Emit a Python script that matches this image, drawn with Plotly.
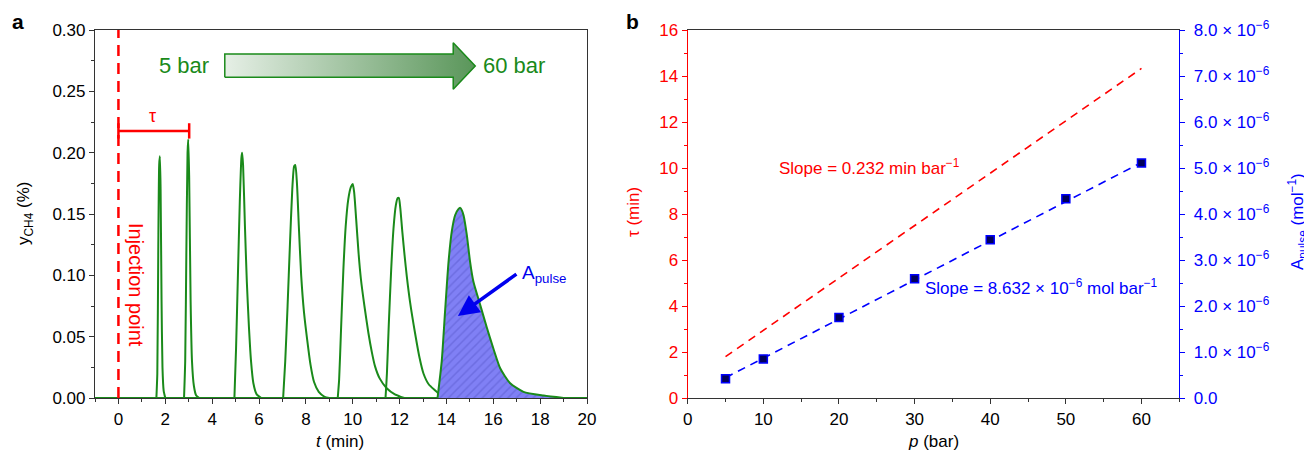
import plotly.graph_objects as go

# The page shows the figure with an 8px body margin, so the figure is 8px smaller
# and all reference pixel positions are shifted by OFF.
OFF = 8
W, H = 1312 - OFF, 458 - OFF
FONT = "Liberation Sans, Arial, sans-serif"
GREEN = "#1a8a1a"
RED = "#ff0000"
BLUE = "#0000ff"


def fx(x):
    return (x - OFF) / W


def fy(y):
    return 1 - (y - OFF) / H


# ---------------- Panel a data (chromatogram peaks) ----------------
t1 = [1.62, 1.66, 1.70, 1.74, 1.77, 1.80, 1.84, 1.88, 1.93, 2.00]
y1 = [0, 0.02, 0.12, 0.19, 0.197, 0.17, 0.08, 0.025, 0.006, 0]

t2 = [2.80, 2.85, 2.90, 2.95, 2.98, 3.02, 3.08, 3.14, 3.22, 3.32, 3.45]
y2 = [0, 0.03, 0.12, 0.20, 0.211, 0.18, 0.08, 0.03, 0.01, 0.002, 0]

t3 = [4.95, 5.02, 5.10, 5.18, 5.25, 5.28, 5.32, 5.40, 5.48, 5.57, 5.66, 5.76, 5.90, 6.10]
y3 = [0, 0.04, 0.10, 0.16, 0.196, 0.200, 0.19, 0.14, 0.095, 0.058, 0.03, 0.012, 0.003, 0]

t4 = [7.03, 7.12, 7.22, 7.32, 7.42, 7.50, 7.55, 7.62, 7.70, 7.80, 7.92, 8.06, 8.20, 8.35, 8.55, 8.80, 9.00]
y4 = [0, 0.03, 0.075, 0.125, 0.17, 0.189, 0.19, 0.175, 0.14, 0.10, 0.07, 0.047, 0.027, 0.013, 0.005, 0.001, 0]

t5 = [9.36, 9.42, 9.50, 9.60, 9.70, 9.81, 9.92, 10.00, 10.06, 10.15, 10.25, 10.35, 10.50, 10.67,
      10.82, 10.95, 11.15, 11.45, 11.80, 12.20]
y5 = [0, 0.015, 0.055, 0.104, 0.14, 0.162, 0.172, 0.1745, 0.168, 0.145, 0.118, 0.097, 0.075, 0.053,
      0.037, 0.026, 0.016, 0.008, 0.003, 0]

t6 = [11.40, 11.46, 11.54, 11.64, 11.74, 11.84, 11.92, 11.97, 12.03, 12.12, 12.22, 12.31, 12.45,
      12.66, 12.85, 13.02, 13.25, 13.59, 13.80]
y6 = [0, 0.02, 0.06, 0.104, 0.138, 0.157, 0.163, 0.163, 0.155, 0.135, 0.115, 0.099, 0.078,
      0.053, 0.033, 0.020, 0.011, 0.005, 0]

t7 = [13.62, 13.80, 13.94, 14.09, 14.23, 14.37, 14.51, 14.59, 14.66, 14.73, 14.87, 15.01, 15.15,
      15.44, 15.73, 16.00, 16.30, 16.72, 17.29, 18.15, 19.00]
y7 = [0, 0.03, 0.07, 0.111, 0.136, 0.149, 0.154, 0.155, 0.153, 0.149, 0.133, 0.111, 0.095,
      0.076, 0.057, 0.0405, 0.024, 0.012, 0.005, 0.002, 0]

peaks = [(t1, y1), (t2, y2), (t3, y3), (t4, y4), (t5, y5), (t6, y6)]
baseline_t = [-1, 20]
baseline_y = [0, 0]

injection_t = [0, 0]
injection_y = [0, 0.30]

# decorative pressure arrow outline (t, y) in panel-a coordinates
arrow_t = [4.54, 14.29, 14.29, 15.23, 14.29, 14.29, 4.54, 4.54]
arrow_y = [0.2614, 0.2614, 0.2517, 0.2707, 0.2896, 0.2804, 0.2804, 0.2614]

# ---------------- Panel b data ----------------
p_pts = [5, 10, 20, 30, 40, 50, 60]
A_pts = [0.42e-6, 0.85e-6, 1.75e-6, 2.59e-6, 3.44e-6, 4.33e-6, 5.11e-6]
A_fit_p = [5, 60]
A_fit = [0.44e-6, 5.12e-6]
tau_fit_p = [5, 60]
tau_fit = [1.80, 14.33]

right_tickvals = [i * 1e-6 for i in range(9)]
right_ticktext = ["0.0"] + [f"{i}.0 × 10<sup>−6</sup>" for i in range(1, 9)]

fig = go.Figure()

# baseline
fig.add_trace(go.Scatter(x=baseline_t, y=baseline_y, mode="lines", line=dict(color=GREEN, width=2),
                         xaxis="x", yaxis="y", cliponaxis=False, showlegend=False, hoverinfo="skip"))
# peaks
for tt, yy in peaks:
    fig.add_trace(go.Scatter(x=tt, y=yy, mode="lines",
                             line=dict(color=GREEN, width=2, shape="spline", smoothing=0.6),
                             xaxis="x", yaxis="y", cliponaxis=False, showlegend=False))
# filled peak
fig.add_trace(go.Scatter(x=t7, y=y7, mode="lines", fill="tozeroy",
                         fillcolor="rgb(128,128,245)",
                         fillpattern=dict(shape="/", bgcolor="rgb(128,128,245)", fgcolor="rgb(90,90,205)",
                                          size=6, solidity=0.25),
                         line=dict(color=GREEN, width=2, shape="spline", smoothing=0.6),
                         xaxis="x", yaxis="y", cliponaxis=False, showlegend=False))
# injection line
fig.add_trace(go.Scatter(x=injection_t, y=injection_y, mode="lines",
                         line=dict(color=RED, width=2.5, dash="11px,7px"),
                         xaxis="x", yaxis="y", showlegend=False))
# gradient arrow
fig.add_trace(go.Scatter(x=arrow_t, y=arrow_y, mode="lines", fill="toself",
                         fillgradient=dict(type="horizontal",
                                           colorscale=[[0, "#e6efe6"], [1, "#5a965a"]]),
                         line=dict(color=GREEN, width=1.5),
                         xaxis="x", yaxis="y", showlegend=False, hoverinfo="skip"))

# panel b
fig.add_trace(go.Scatter(x=tau_fit_p, y=tau_fit, mode="lines",
                         line=dict(color=RED, width=1.6, dash="8px,6px"),
                         xaxis="x2", yaxis="y2", showlegend=False))
fig.add_trace(go.Scatter(x=A_fit_p, y=A_fit, mode="lines",
                         line=dict(color=BLUE, width=1.6, dash="8px,6px"),
                         xaxis="x2", yaxis="y3", showlegend=False))
fig.add_trace(go.Scatter(x=p_pts, y=A_pts, mode="markers",
                         marker=dict(symbol="square", size=8, color="#00005a",
                                     line=dict(color=BLUE, width=1.5)),
                         xaxis="x2", yaxis="y3", showlegend=False))

xa = [fx(95), fx(587)]
xb = [fx(687.7), fx(1179.3)]
yd = [fy(398), fy(30)]
tickfont = dict(family=FONT, size=17, color="black")
AX = "#333333"

fig.update_layout(
    width=W, height=H, margin=dict(l=0, r=0, t=0, b=0, pad=0, autoexpand=False),
    paper_bgcolor="white", plot_bgcolor="white",
    font=dict(family=FONT, size=17, color="black"),
    xaxis=dict(domain=xa, range=[-1, 20], anchor="y", tick0=0, dtick=2, automargin=False,
               showgrid=False, zeroline=False, showline=True, linecolor=AX, linewidth=1.2,
               mirror=True, ticks="outside", ticklen=5, tickcolor=AX, tickfont=tickfont,
               minor=dict(ticks="outside", ticklen=3, dtick=1, tickcolor=AX)),
    yaxis=dict(domain=yd, range=[0, 0.30], anchor="x", dtick=0.05, tickformat=".2f", automargin=False,
               showgrid=False, zeroline=False, showline=True, linecolor=AX, linewidth=1.2,
               mirror=True, ticks="outside", ticklen=5, tickcolor=AX, tickfont=tickfont,
               minor=dict(ticks="outside", ticklen=3, dtick=0.025, tickcolor=AX)),
    xaxis2=dict(domain=xb, range=[0, 65], anchor="y2", tick0=0, dtick=10, automargin=False,
                showgrid=False, zeroline=False, showline=True, linecolor=AX, linewidth=1.2,
                mirror=True, ticks="outside", ticklen=5, tickcolor=AX, tickfont=tickfont,
                minor=dict(ticks="outside", ticklen=3, dtick=5, tickcolor=AX)),
    yaxis2=dict(domain=yd, range=[0, 16], anchor="x2", dtick=2, automargin=False,
                showgrid=False, zeroline=False, showline=True, linecolor=RED, linewidth=1.2,
                ticks="outside", ticklen=5, tickcolor=RED,
                tickfont=dict(family=FONT, size=17, color=RED),
                minor=dict(ticks="outside", ticklen=3, dtick=1, tickcolor=RED)),
    yaxis3=dict(overlaying="y2", side="right", anchor="x2", range=[0, 8e-6], automargin=False,
                tickmode="array", tickvals=right_tickvals, ticktext=right_ticktext,
                showgrid=False, zeroline=False, showline=True, linecolor=BLUE, linewidth=1.2,
                ticks="outside", ticklen=5, tickcolor=BLUE, ticklabelstandoff=5,
                tickfont=dict(family=FONT, size=17, color=BLUE),
                minor=dict(ticks="outside", ticklen=3, tickvals=[(i + 0.5) * 1e-6 for i in range(8)],
                           tickcolor=BLUE)),
)

shapes = [
    dict(type="line", xref="x", yref="y", x0=0, x1=3.02, y0=0.2177, y1=0.2177,
         line=dict(color=RED, width=2.5)),
    dict(type="line", xref="x", yref="y", x0=0, x1=0, y0=0.2115, y1=0.2240,
         line=dict(color=RED, width=2.5)),
    dict(type="line", xref="x", yref="y", x0=3.02, x1=3.02, y0=0.2115, y1=0.2240,
         line=dict(color=RED, width=2.5)),
]
fig.update_layout(shapes=shapes)

ann = []


def pa(text, x, y, size=17, color="black", **kw):
    d = dict(text=text, x=fx(x), y=fy(y), xref="paper", yref="paper", showarrow=False,
             font=dict(family=FONT, size=size, color=color), xanchor="center", yanchor="middle")
    d.update(kw)
    ann.append(d)


pa("<b>a</b>", 18, 22, size=21)
pa("<b>b</b>", 632, 22, size=21)
pa("<i>t</i> (min)", 340, 441, size=17)
pa("<i>p</i> (bar)", 933, 441, size=17)
pa("y<sub>CH4</sub> (%)", 25, 214, size=17, textangle=-90)
pa("τ (min)", 633, 212, size=17, color=RED, textangle=-90)
pa("A<sub>pulse</sub> (mol<sup>−1</sup>)", 1298, 222, size=17, color=BLUE, textangle=-90)
pa("5 bar", 184, 66, size=22, color=GREEN)
pa("60 bar", 514, 66, size=22, color=GREEN)
pa("τ", 152, 116, size=18, color=RED)
pa("Injection point", 136, 285, size=20, color=RED, textangle=90)

# A_pulse arrow + label (panel a data coords)
ann.append(dict(x=14.49, y=0.0668, xref="x", yref="y", ax=60, ay=-43, axref="pixel", ayref="pixel",
                showarrow=True, arrowhead=2, arrowsize=1.2, arrowwidth=3.5, arrowcolor="#0000ee",
                text=""))
ann.append(dict(x=17.15, y=0.101, xref="x", yref="y", showarrow=False, xanchor="left",
                yanchor="middle", text="A<sub>pulse</sub>",
                font=dict(family=FONT, size=19, color="#0000ee")))
# slope labels (panel b)
ann.append(dict(x=11.84, y=10.05, xref="x2", yref="y2", showarrow=False, xanchor="left",
                yanchor="middle", text="Slope = 0.232 min bar<sup>−1</sup>",
                font=dict(family=FONT, size=17, color=RED)))
ann.append(dict(x=31.07, y=4.83, xref="x2", yref="y2", showarrow=False, xanchor="left",
                yanchor="middle", text="Slope = 8.632 × 10<sup>−6</sup> mol bar<sup>−1</sup>",
                font=dict(family=FONT, size=17, color=BLUE)))
fig.update_layout(annotations=ann)

fig.write_html("out.html")
